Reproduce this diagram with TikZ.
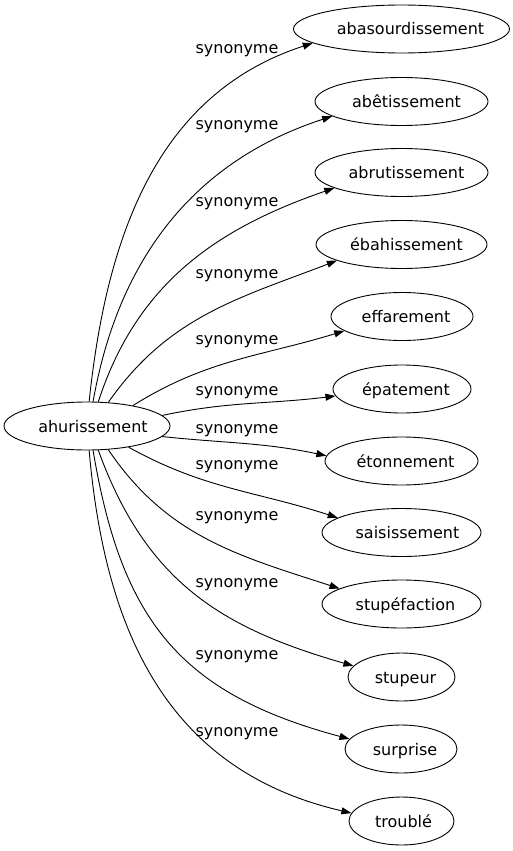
\documentclass[tikz,border=0pt]{standalone}
\usepackage{fontspec}
\setmainfont{DejaVu Sans}
\usetikzlibrary{arrows.meta,shapes.geometric}
\newcommand{\txshift}[2]{\hspace*{#1}#2\hspace*{-#1}}
\tikzset{
  word/.style={draw, ellipse, inner sep=0pt, minimum height=48pt,
    text height=12pt, text depth=0pt, line width=0.9pt,
    font=\fontsize{16}{19}\selectfont},
  lbl/.style={inner sep=0pt, font=\fontsize{16}{19}\selectfont},
  syn/.style={-{Triangle[length=10pt,width=7pt]}, line width=0.9pt},
}
\begin{document}
\begin{tikzpicture}[x=1pt,y=1pt]
\useasboundingbox (0,-851) rectangle (513,0);
\node[word, minimum width=166pt] (hub) at (87,-426) {\txshift{6pt}{ahurissement}};
\node[word, minimum width=216pt] (n1) at (401.5,-29) {\txshift{9pt}{abasourdissement}};
\node[word, minimum width=173pt] (n2) at (401.5,-101.5) {\txshift{5pt}{abêtissement}};
\node[word, minimum width=173pt] (n3) at (401.5,-172.5) {\txshift{5pt}{abrutissement}};
\node[word, minimum width=171pt] (n4) at (401.5,-244.5) {\txshift{5pt}{ébahissement}};
\node[word, minimum width=142pt] (n5) at (402,-316.5) {\txshift{4pt}{effarement}};
\node[word, minimum width=138pt] (n6) at (402,-389) {\txshift{4pt}{épatement}};
\node[word, minimum width=153pt] (n7) at (401.5,-461) {\txshift{4pt}{étonnement}};
\node[word, minimum width=159pt] (n8) at (401.5,-532.5) {\txshift{6pt}{saisissement}};
\node[word, minimum width=159pt] (n9) at (401.5,-604) {\txshift{4pt}{stupéfaction}};
\node[word, minimum width=107pt] (n10) at (401.5,-677) {\txshift{4pt}{stupeur}};
\node[word, minimum width=112pt] (n11) at (401,-749) {\txshift{4pt}{surprise}};
\node[word, minimum width=105pt] (n12) at (401.5,-821) {\txshift{2pt}{troublé}};

\node[lbl] (l1) at (237,-51) {synonyme};
\node[lbl] (l2) at (237,-127) {synonyme};
\node[lbl] (l3) at (237,-204) {synonyme};
\node[lbl] (l4) at (237,-276) {synonyme};
\node[lbl] (l5) at (237,-342) {synonyme};
\node[lbl] (l6) at (237,-393) {synonyme};
\node[lbl] (l7) at (237,-431) {synonyme};
\node[lbl] (l8) at (237,-467) {synonyme};
\node[lbl] (l9) at (237,-518) {synonyme};
\node[lbl] (l10) at (237,-585) {synonyme};
\node[lbl] (l11) at (237,-657) {synonyme};
\node[lbl] (l12) at (237,-734) {synonyme};

\draw[syn] (hub.85) to[out=84,in=198] (n1.189);
\draw[syn] (hub.76) to[out=80,in=198] (n2.192);
\draw[syn] (hub.65) to[out=72,in=199] (n3.193);
\draw[syn] (hub.48) to[out=55,in=201] (n4.194);
\draw[syn] (hub.24) to[out=32,in=197] (n5.194);
\draw[syn] (hub.8) to[out=12,in=187] (n6.186);
\draw[syn] (hub.-8) to[out=-6,in=168] (n7.176);
\draw[syn] (hub.-27) to[out=-29,in=162] (n8.167);
\draw[syn] (hub.-48) to[out=-56,in=162] (n9.166);
\draw[syn] (hub.-65) .. controls +(-70:140) and +(164:138) .. (n10.167);
\draw[syn] (hub.-76) .. controls +(-80.5:172) and +(165:176) .. (n11.169);
\draw[syn] (hub.-85) .. controls +(-85:182) and +(167:189) .. (n12.171);
\end{tikzpicture}
\end{document}
